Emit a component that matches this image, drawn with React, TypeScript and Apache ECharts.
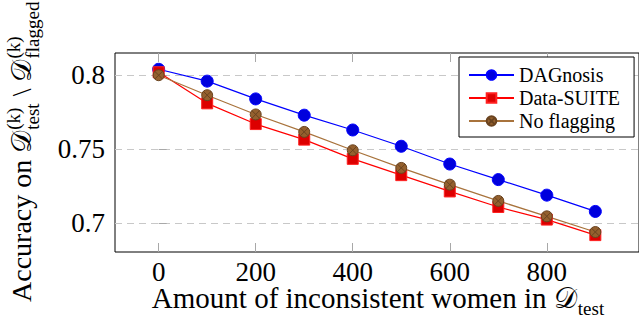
import React, { useEffect, useRef } from "react";
import * as echarts from "echarts";

const xValues = [0, 100, 200, 300, 400, 500, 600, 700, 800, 900];
const dagnosis = [0.804, 0.796, 0.784, 0.773, 0.763, 0.752, 0.740, 0.7295, 0.719, 0.708];
const dataSuite = [0.802, 0.781, 0.767, 0.7565, 0.7435, 0.7325, 0.7215, 0.711, 0.7025, 0.692];
const noFlagging = [0.800, 0.7865, 0.7735, 0.7617, 0.7493, 0.7374, 0.7261, 0.7151, 0.7047, 0.6941];
const seriesNames = ["DAGnosis", "Data-SUITE", "No flagging"];
const xTicks = [0, 200, 400, 600, 800];
const yTicks = [0.7, 0.75, 0.8];

const otimes =
  "path://M10,0A10,10,0,1,1,10,20A10,10,0,1,1,10,0ZM2.93,2.93L17.07,17.07M17.07,2.93L2.93,17.07";

const SERIF = "Liberation Serif";
const MATH = "DejaVu Serif";

export default function App() {
  const ref = useRef<HTMLDivElement>(null);
  const measRef = useRef<HTMLSpanElement>(null);
  useEffect(() => {
    const chart = echarts.init(ref.current!, null, { renderer: "svg" });
    const span = measRef.current!;
    const measure = (t: string, size: number, fam: string = SERIF) => {
      span.style.fontSize = size + "px";
      span.style.fontFamily = fam;
      span.textContent = t;
      return span.getBoundingClientRect().width;
    };
    const S = 19;
    const mid = (baseline: number, size: number) => baseline - 0.34 * size;
    const txt = (text: string, x: number, baseline: number, size: number, fam: string = SERIF) => ({
      type: "text",
      x,
      y: mid(baseline, size),
      style: { text, fontSize: size, fontFamily: fam, fill: "#000", verticalAlign: "middle", align: "left" },
    });

    // y-axis title, rotated
    const MY = 28;
    const yChildren: any[] = [];
    let c = 0;
    const addMain = (t: string, fam: string = SERIF) => {
      yChildren.push(txt(t, c, 0, MY, fam));
      c += measure(t, MY, fam);
    };
    const addSubSup = (sub: string, sup: string) => {
      yChildren.push(txt(sup, c + 1, -11, S));
      yChildren.push(txt(sub, c + 1, 8, S));
      c += Math.max(measure(sub, S), measure(sup, S) + 1) + 1;
    };
    addMain("Accuracy on\u00a0");
    addMain("𝒟", MATH);
    addSubSup("test", "(k)");
    addMain("\u00a0\\\u00a0");
    addMain("𝒟", MATH);
    addSubSup("flagged", "(k)");

    // x-axis title
    const MX = 29;
    const xChildren: any[] = [];
    let cx = 0;
    const xMain = "Amount of inconsistent women in\u00a0";
    xChildren.push(txt(xMain, cx, 0, MX));
    cx += measure(xMain, MX);
    xChildren.push(txt("𝒟", cx, 0, MX, MATH));
    cx += measure("𝒟", MX, MATH);
    xChildren.push(txt("test", cx + 1, 7, S));
    cx += measure("test", S) + 1;
    const xStart = 378 - cx / 2;
    span.textContent = "";

    const mk = (vals: number[]) => xValues.map((x, i) => [x, vals[i]]);

    const tickStyle = { color: "#a8a8a8", width: 1 };
    chart.setOption({
      animation: false,
      textStyle: { fontFamily: SERIF },
      grid: { left: 115, top: 53, width: 529, height: 199, show: true, borderColor: "#000", borderWidth: 1, backgroundColor: "transparent" },
      xAxis: [
        {
          type: "value",
          min: -90,
          max: 990,
          axisLine: { show: false },
          splitLine: { show: false },
          axisTick: { inside: true, length: 9, lineStyle: tickStyle, customValues: xTicks },
          axisLabel: { customValues: xTicks, fontSize: 27, fontFamily: SERIF, color: "#000", margin: 6 },
        },
        {
          type: "value",
          position: "top",
          min: -90,
          max: 990,
          axisLine: { show: false },
          splitLine: { show: false },
          axisTick: { inside: true, length: 9, lineStyle: tickStyle, customValues: xTicks },
          axisLabel: { show: false },
        },
      ],
      yAxis: {
        type: "value",
        min: 0.6806,
        max: 0.815,
        splitNumber: 3,
        axisLine: { show: false },
        axisTick: { inside: true, length: 8, lineStyle: tickStyle, customValues: yTicks },
        axisLabel: {
          customValues: yTicks,
          fontSize: 27,
          fontFamily: SERIF,
          color: "#000",
          margin: 10,
          formatter: (v: number) => String(+Number(v).toFixed(2)),
        },
        splitLine: { show: true, lineStyle: { color: "#c8c8c8", width: 1.2, type: [7, 5] } },
      },
      legend: {
        data: seriesNames,
        orient: "vertical",
        left: 459,
        top: 57,
        padding: [8, 14, 6, 9],
        itemGap: 3,
        itemWidth: 45,
        itemHeight: 12,
        borderColor: "#000",
        borderWidth: 1,
        borderRadius: 0,
        backgroundColor: "#fff",
        textStyle: { fontFamily: SERIF, fontSize: 20, color: "#000" },
        z: 10,
      },
      series: [
        {
          name: seriesNames[0],
          type: "line",
          data: mk(dagnosis),
          symbol: "circle",
          symbolSize: 12,
          lineStyle: { color: "#0000ff", width: 1.2 },
          itemStyle: { color: "#0000dd", borderColor: "#0000ff", borderWidth: 1 },
          emphasis: { disabled: true },
        },
        {
          name: seriesNames[1],
          type: "line",
          data: mk(dataSuite),
          symbol: "rect",
          symbolSize: 11,
          lineStyle: { color: "#ff0000", width: 1.2 },
          itemStyle: { color: "#dd0000", borderColor: "#ff2020", borderWidth: 1 },
          emphasis: { disabled: true },
        },
        {
          name: seriesNames[2],
          type: "line",
          data: mk(noFlagging),
          symbol: otimes,
          symbolSize: 11,
          lineStyle: { color: "#a8733c", width: 1.2 },
          itemStyle: { color: "#94602e", borderColor: "#6a431f", borderWidth: 1 },
          emphasis: { disabled: true },
        },
      ],
      graphic: [
        { type: "group", x: 31, y: 302, rotation: Math.PI / 2, children: yChildren },
        { type: "group", x: xStart, y: 308, children: xChildren },
      ],
    });
    return () => chart.dispose();
  }, []);
  return (
    <div>
      <div ref={ref} style={{ position: "absolute", left: 0, top: 0, width: 639, height: 320 }} />
      <span
        ref={measRef}
        style={{ position: "absolute", left: -2000, top: -200, whiteSpace: "pre", fontFamily: SERIF }}
      />
    </div>
  );
}
